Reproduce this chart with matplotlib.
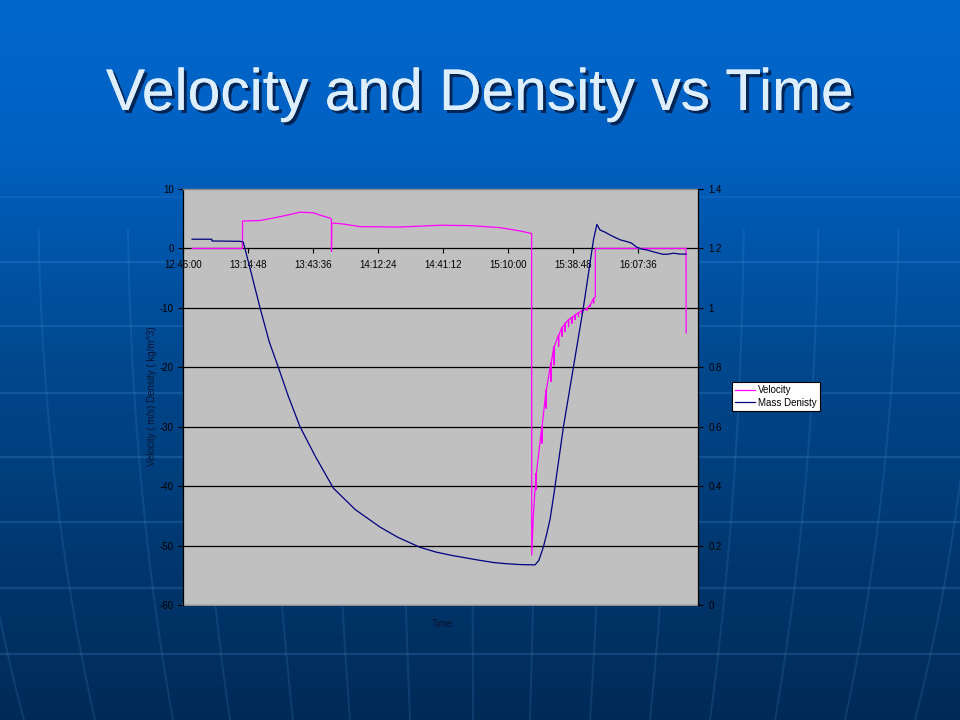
import numpy as np
import matplotlib
matplotlib.use("Agg")
import matplotlib.pyplot as plt
from matplotlib import patheffects as pe

plt.rcParams['font.family'] = ['Liberation Sans', 'DejaVu Sans']
plt.rcParams['axes.unicode_minus'] = False

# ---------------- data (minutes after 12:46:00) ----------------
vel_t_main = [3.9, 26.2, 26.25, 34.0, 39.7, 46.0, 51.7, 57.5, 60.6, 65.0, 65.6, 65.65, 65.75,
              71.6, 78.3, 96.0, 113.7, 127.0, 140.3, 149.2, 153.6, 154.3]
vel_v_main = [0, 0, 4.6, 4.7, 5.1, 5.6, 6.1, 6.0, 5.6, 5.1, 4.9, -0.5, 4.3,
              4.07, 3.67, 3.6, 3.9, 3.84, 3.5, 2.94, 2.56, 2.5]
rec_t = [154.35, 155.1, 156.3, 158.8, 160.7, 162.8, 164.2, 166.2, 167.7, 169.1, 170.6,
         172.1, 173.5, 175.0, 176.5, 178.7, 180.2, 181.7, 182.5]
rec_v = [-51.6, -44.6, -37.8, -30.0, -23.8, -19.3, -16.5, -14.6, -13.3, -12.6, -12.0,
         -11.6, -11.2, -10.8, -10.5, -10.1, -9.5, -8.4, -8.2]
rec_dip = [None, None, -40.6, -32.8, -26.9, -22.4, -19.6, -16.5, -14.8, -14.0, -13.2,
           -12.6, -12.0, -11.5, -10.9, -10.4, -9.8, -9.2, None]
tail_t = [182.55, 222.7, 222.75]
tail_v = [0, 0, -14.2]

dens_t = [3.9, 12.6, 12.7, 25.1, 26.5, 27.3, 30.0, 34.0, 38.1, 42.1, 46.5, 51.7, 58.5,
          66.5, 76.2, 87.2, 95.0, 104.9, 112.0, 119.5, 124.1, 130.0, 137.4, 143.0, 149.2,
          155.8, 157.5, 159.5, 161.0, 162.5, 164.3, 168.4, 172.8, 177.2, 181.7, 183.2,
          184.6, 187.0, 189.1, 191.0, 193.5, 196.5, 198.5, 200.9, 203.0, 205.3, 209.0,
          212.7, 215.0, 217.1, 220.0, 222.7]
dens_v = [1.231, 1.231, 1.225, 1.224, 1.222, 1.200, 1.12, 1.00, 0.885, 0.80, 0.703, 0.60, 0.50,
          0.393, 0.321, 0.262, 0.228, 0.194, 0.178, 0.166, 0.160, 0.152, 0.143, 0.139, 0.136,
          0.135, 0.150, 0.195, 0.24, 0.29, 0.38, 0.60, 0.80, 1.00, 1.229, 1.281,
          1.262, 1.254, 1.245, 1.238, 1.229, 1.223, 1.218, 1.204, 1.198, 1.195, 1.187,
          1.180, 1.181, 1.184, 1.181, 1.181]

x_tick_min = [0, 28.8, 57.6, 86.4, 115.2, 144.0, 172.8, 201.6]
x_tick_labels = ['12:46:00', '13:14:48', '13:43:36', '14:12:24', '14:41:12',
                 '15:10:00', '15:38:48', '16:07:36']
left_ticks = [-60, -50, -40, -30, -20, -10, 0, 10]
right_ticks = [0, 0.2, 0.4, 0.6, 0.8, 1.0, 1.2, 1.4]
right_tick_labels = ['0', '0.2', '0.4', '0.6', '0.8', '1', '1.2', '1.4']
series_names = ['Velocity', 'Mass Denisty']

# build velocity path (base points with downward dips)
vel_t = list(vel_t_main)
vel_v = list(vel_v_main)
for t, v, d in zip(rec_t, rec_v, rec_dip):
    vel_t.append(t); vel_v.append(v)
    if d is not None:
        vel_t += [t + 0.05, t + 0.12]
        vel_v += [d, v]
vel_t += tail_t
vel_v += tail_v

# ---------------- figure ----------------
W, H = 960, 720
fig = plt.figure(figsize=(9.6, 7.2), dpi=100)

# background gradient + globe lines
bg = fig.add_axes([0, 0, 1, 1])
bg.set_zorder(-5)
ys = np.linspace(0, 1, 360)[:, None]
stops = np.array([0.0, 0.2, 0.5, 1.0])
cols = np.array([[0, 102, 204], [0, 97, 194], [0, 72, 142], [0, 42, 86]]) / 255.0
grad = np.stack([np.interp(ys[:, 0], stops, cols[:, i]) for i in range(3)], axis=1)
img = np.repeat(grad[:, None, :], 4, axis=1)
bg.imshow(img, extent=[0, W, H, 0], aspect='auto', interpolation='bilinear')
for yl, al in zip([197, 262, 326, 393, 457, 522, 588, 654],
                  [0.12, 0.2, 0.2, 0.22, 0.22, 0.2, 0.2, 0.2]):
    bg.plot([0, W], [yl, yl], color='#5aa0e8', alpha=al, lw=1.6)
R, cy = 1100.0, 180.0
yy = np.linspace(230, 720, 200)
cosphi = np.cos(np.arcsin(np.clip((yy - cy) / R, -1, 1)))
for xb in [24, 95, 173, 230, 293, 350, 410, 473, 530, 590, 650, 710, 775, 845, 915]:
    k = (xb - 480) / np.cos(np.arcsin((720 - cy) / R))
    bg.plot(480 + k * cosphi, yy, color='#5aa0e8', alpha=0.16, lw=1.4)
bg.set_xlim(0, W); bg.set_ylim(H, 0); bg.axis('off')

# title
title = fig.text(480 / W, 1 - 110 / H, 'Velocity and Density vs Time', ha='center',
                 va='baseline', fontsize=42.3, color='#DDEEFF')
title.set_path_effects([pe.withSimplePatchShadow(offset=(2.2, -2.2), shadow_rgbFace='#001a40',
                                                 alpha=0.85), pe.Normal()])

# chart
left_px, right_px, top_px, bot_px = 183.3, 698.0, 189.0, 605.0
ax = fig.add_axes([left_px / W, 1 - bot_px / H, (right_px - left_px) / W, (bot_px - top_px) / H])
ax.set_facecolor('#C0C0C0')
ax.set_xlim(0, 228.0)
ax.set_ylim(-60, 10)
for g in left_ticks[1:-2]:
    ax.axhline(g, color='black', lw=0.9, zorder=1)
ax.spines['bottom'].set_position(('data', 0))
ax.spines['bottom'].set_color('black'); ax.spines['bottom'].set_linewidth(0.9)
ax.spines['top'].set_color('#8c8c8c'); ax.spines['top'].set_linewidth(1.0)
ax.spines['left'].set_color('black'); ax.spines['left'].set_linewidth(0.9)
ax.spines['right'].set_visible(False)
ax.axhline(-60, color='#a8a8a8', lw=1.2, zorder=1, clip_on=False)
ax.set_yticks(left_ticks)
ax.set_yticklabels([str(v) for v in left_ticks])
ax.set_xticks(x_tick_min)
ax.set_xticklabels(x_tick_labels)
ax.tick_params(axis='x', direction='out', length=3.5, width=0.8, pad=4.5, labelsize=7,
               colors='black')
ax.tick_params(axis='y', direction='out', length=3.5, width=0.8, pad=3.5, labelsize=7,
               colors='black')
l1, = ax.plot(vel_t, vel_v, color='#FF00FF', lw=0.9, zorder=4)

ax2 = ax.twinx()
ax2.set_ylim(0, 1.4)
ax2.set_yticks(right_ticks)
ax2.set_yticklabels(right_tick_labels)
for s in ['top', 'bottom', 'left']:
    ax2.spines[s].set_visible(False)
ax2.spines['right'].set_color('black'); ax2.spines['right'].set_linewidth(0.9)
ax2.tick_params(axis='y', direction='out', length=3.5, width=0.8, pad=4.0, labelsize=7,
                colors='black')
l2, = ax2.plot(dens_t, dens_v, color='#000080', lw=0.9, zorder=3)

fig.text(152 / W, 1 - 396 / H, 'Velocity ( m/s) Density ( kg/m^3)', rotation=90,
         ha='center', va='center', fontsize=7, color='#0a1430')
fig.text(442 / W, 1 - 624 / H, 'Time', ha='center', va='center', fontsize=7, color='#0a1430')

leg = fig.legend(handles=[l1, l2], labels=series_names, loc='upper left',
                 bbox_to_anchor=(732 / W, 1 - 382 / H), frameon=True, fancybox=False,
                 edgecolor='black', facecolor='white', framealpha=1, fontsize=7,
                 handlelength=2.0, handletextpad=0.3, borderpad=0.35, labelspacing=0.25,
                 borderaxespad=0)
leg.get_frame().set_linewidth(0.8)

fig.savefig('out.png', dpi=100)
